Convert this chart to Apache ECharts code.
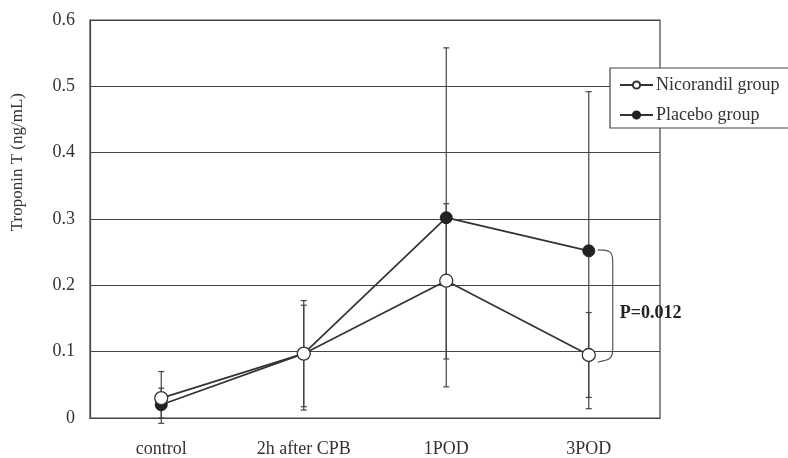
<!DOCTYPE html>
<html>
<head>
<meta charset="utf-8">
<script src="https://cdn.jsdelivr.net/npm/echarts@6/dist/echarts.min.js"></script>
<style>html,body{margin:0;padding:0;background:#fff}#c{width:788px;height:458px}</style>
</head>
<body>
<div id="c"></div>
<script>
var categories = ['control', '2h after CPB', '1POD', '3POD'];
var yTicks = [0, 0.1, 0.2, 0.3, 0.4, 0.5, 0.6];

var nicorandilMean = [0.030, 0.097, 0.207, 0.095];
var nicorandilHigh = [0.070, 0.177, 0.323, 0.159];
var nicorandilLow  = [-0.008, 0.017, 0.089, 0.031];

var placeboMean = [0.020, 0.097, 0.302, 0.252];
var placeboHigh = [0.045, 0.170, 0.558, 0.492];
var placeboLow  = [0.000, 0.012, 0.047, 0.014];

var pLabel = 'P=0.012';
var pCategory = 3;

var FONT = 'Liberation Serif, Times New Roman, serif';
var INK = '#333';

function errData(high, low) {
  return categories.map(function (c, i) { return [i, high[i], low[i]]; });
}
function errRender(params, api) {
  var x = api.value(0);
  var hi = api.coord([x, api.value(1)]);
  var lo = api.coord([x, api.value(2)]);
  var cap = 3;
  var st = { stroke: '#444', lineWidth: 1.2 };
  return {
    type: 'group',
    children: [
      { type: 'line', shape: { x1: hi[0], y1: hi[1], x2: lo[0], y2: lo[1] }, style: st },
      { type: 'line', shape: { x1: hi[0] - cap, y1: hi[1], x2: hi[0] + cap, y2: hi[1] }, style: st },
      { type: 'line', shape: { x1: lo[0] - cap, y1: lo[1], x2: lo[0] + cap, y2: lo[1] }, style: st }
    ]
  };
}

var chart = echarts.init(document.getElementById('c'));
chart.setOption({
  animation: false,
  backgroundColor: '#fff',
  textStyle: { fontFamily: FONT },
  grid: { left: 90, right: 128, top: 20, bottom: 40, show: true, borderColor: '#444', borderWidth: 1.2, backgroundColor: 'transparent' },
  graphic: [{
    type: 'text', left: 9, top: 93, rotation: Math.PI / 2,
    style: { text: 'Troponin T (ng/mL)', font: '17px ' + FONT, fill: INK }
  }],
  xAxis: {
    type: 'category', data: categories, boundaryGap: true,
    axisLine: { show: true, lineStyle: { color: '#444', width: 1.2 } },
    axisTick: { show: false },
    axisLabel: { color: INK, fontSize: 18, fontFamily: FONT, margin: 22 },
    splitLine: { show: false }
  },
  yAxis: {
    type: 'value', min: 0, max: 0.6, interval: 0.1,
    axisLine: { show: true, lineStyle: { color: '#444', width: 1.2 } },
    axisTick: { show: false },
    axisLabel: { color: INK, fontSize: 18, fontFamily: FONT, margin: 15,
      formatter: function (v) { var t = yTicks.reduce(function (a, b) { return Math.abs(b - v) < Math.abs(a - v) ? b : a; }); return t === 0 ? '0' : t.toFixed(1); } },
    splitLine: { show: true, lineStyle: { color: '#444', width: 1.2 } }
  },
  legend: {
    orient: 'vertical', left: 610, top: 68, width: 180,
    backgroundColor: '#fff', borderColor: '#444', borderWidth: 1.2, borderRadius: 0,
    padding: [8, 20, 4, 9], itemGap: 12, itemWidth: 33, itemHeight: 9,
    textStyle: { color: INK, fontSize: 18, fontFamily: FONT, padding: [0, 0, 0, -2] },
    data: ['Nicorandil group', 'Placebo group']
  },
  series: [
    { type: 'custom', name: 'nicErr', data: errData(nicorandilHigh, nicorandilLow), renderItem: errRender, clip: false, z: 2, silent: true },
    { type: 'custom', name: 'plaErr', data: errData(placeboHigh, placeboLow), renderItem: errRender, clip: false, z: 2, silent: true },
    {
      type: 'line', name: 'Placebo group', data: placeboMean, z: 3,
      symbol: 'circle', symbolSize: 12,
      lineStyle: { color: '#333', width: 1.7 },
      itemStyle: { color: '#222', borderColor: '#222', borderWidth: 1 }
    },
    {
      type: 'line', name: 'Nicorandil group', data: nicorandilMean, z: 4,
      symbol: 'circle', symbolSize: 13,
      lineStyle: { color: '#333', width: 1.7 },
      itemStyle: { color: '#fff', borderColor: '#333', borderWidth: 1.3 }
    },
    {
      type: 'custom', name: 'pval', silent: true, clip: false, z: 5,
      data: [[pCategory, placeboMean[pCategory], nicorandilMean[pCategory]]],
      renderItem: function (params, api) {
        var a = api.coord([api.value(0), api.value(1)]);
        var b = api.coord([api.value(0), api.value(2)]);
        var x0 = a[0] + 9, x1 = a[0] + 24;
        var y0 = a[1] - 1, y1 = b[1] + 5;
        var path = 'M' + x0 + ' ' + y0 + ' C' + (x1 - 2) + ' ' + y0 + ' ' + x1 + ' ' + (y0 + 2) + ' ' + x1 + ' ' + (y0 + 12) +
          ' L' + x1 + ' ' + (y1 - 12) + ' C' + x1 + ' ' + (y1 - 2) + ' ' + (x1 - 2) + ' ' + y1 + ' ' + x0 + ' ' + (y1 + 2);
        return {
          type: 'group',
          children: [
            { type: 'path', shape: { pathData: path }, style: { stroke: '#555', lineWidth: 1.2, fill: null } },
            { type: 'text', x: x1 + 7, y: (y0 + y1) / 2 + 8,
              style: { text: pLabel, font: 'bold 18px ' + FONT, fill: '#222', verticalAlign: 'middle', align: 'left' } }
          ]
        };
      }
    }
  ]
});
</script>
</body>
</html>
